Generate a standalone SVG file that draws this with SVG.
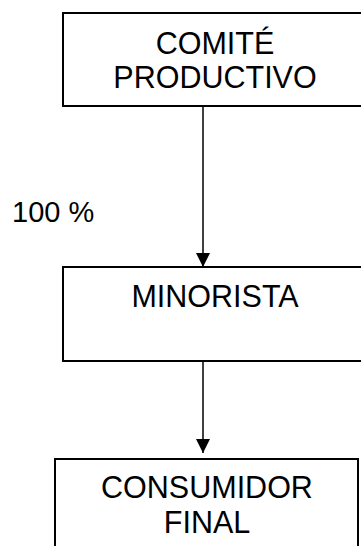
<svg xmlns="http://www.w3.org/2000/svg" width="361" height="546" viewBox="0 0 361 546">
<style>
.box{fill:#fff;stroke:#000;stroke-width:2}
.lbl{font-family:"Liberation Sans",Arial,sans-serif;font-size:30.5px;fill:#000;text-anchor:middle}
.edge{stroke:#000;stroke-width:1.5;fill:none}
</style>
<defs>
<marker id="ah" markerUnits="userSpaceOnUse" markerWidth="16" markerHeight="16" refX="14" refY="7" orient="auto">
<path d="M0,0 L14,7 L0,14 Z" fill="#000"/>
</marker>
</defs>
<rect width="361" height="546" fill="#fff"/>
<g id="comite">
<rect class="box" x="63" y="13" width="304" height="93"/>
<text class="lbl" x="215" y="54">COMITÉ</text>
<text class="lbl" x="215" y="88">PRODUCTIVO</text>
</g>
<g id="minorista">
<rect class="box" x="63" y="267" width="304" height="94"/>
<text class="lbl" x="215" y="307">MINORISTA</text>
</g>
<g id="consumidor">
<rect class="box" x="55" y="459" width="303" height="100"/>
<text class="lbl" x="207" y="498">CONSUMIDOR</text>
<text class="lbl" x="207" y="533">FINAL</text>
</g>
<g id="connectors">
<line class="edge" x1="203" y1="106" x2="203" y2="267" marker-end="url(#ah)"/>
<line class="edge" x1="203" y1="361" x2="203" y2="453" marker-end="url(#ah)"/>
</g>
<text class="lbl" x="12" y="222" style="text-anchor:start;font-size:29px">100 %</text>
</svg>
